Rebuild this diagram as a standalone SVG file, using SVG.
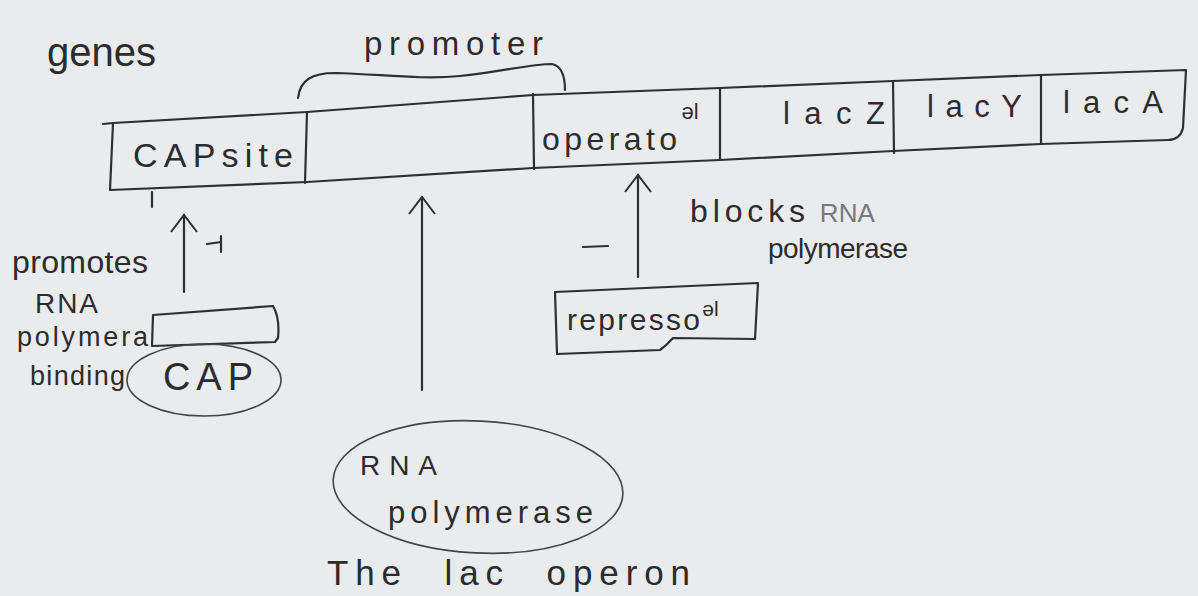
<svg xmlns="http://www.w3.org/2000/svg" width="1198" height="596" viewBox="0 0 1198 596">
<defs>
<style>
.t{font-family:"Liberation Sans","DejaVu Sans",sans-serif;fill:#2c2c2e}
.ln{stroke:#2f2f2f;stroke-width:2.2;fill:none;stroke-linecap:round;stroke-linejoin:round}
.thin{stroke:#444;stroke-width:1.6;fill:none}
</style>
<marker id="ah" viewBox="0 0 22 30" refX="19" refY="15" markerWidth="22" markerHeight="30" markerUnits="userSpaceOnUse" orient="auto">
<path d="M2,2 L19,15 L2,28" fill="none" stroke="#2f2f2f" stroke-width="2"/>
</marker>
</defs>
<rect width="1198" height="596" fill="#eaebed"/>
<text class="t" x="47" y="66" font-size="40" fill="#1c1c2a">genes</text>
<text class="t" x="364" y="55" font-size="33" textLength="179" lengthAdjust="spacing">promoter</text>

<g id="operon">
<path class="ln" d="M103,124 L113,123 L307,112 L533,95 L720,88 L893,81 L1041,75 L1186,70 L1183,128 Q1180,140 1168,140 L1041,144 L893,151 L720,160 L533,168 L307,182 L110,190 L113,123"/>
<path class="ln" d="M307,112 L305,183"/>
<path class="ln" d="M533,94 L534,169"/>
<path class="ln" d="M720,88 L720,160"/>
<path class="ln" d="M893,81 L894,153"/>
<path class="ln" d="M1041,75 L1041,144"/>
<path class="ln" d="M298,98 C300,80 312,73 335,73 C380,74 420,80 460,76 C500,72 530,64 552,64 C562,66 565,76 565,90"/>
<text class="t" x="133" y="167" font-size="34" textLength="160" lengthAdjust="spacing">CAPsite</text>
<text class="t" x="542" y="150" font-size="32"><tspan textLength="135" lengthAdjust="spacing">operato</tspan><tspan font-size="22" dy="-31">əl</tspan></text>
<text class="t" x="783" y="124" font-size="31" textLength="102" lengthAdjust="spacing">lacZ</text>
<text class="t" x="927" y="117" font-size="31" textLength="95" lengthAdjust="spacing">lacY</text>
<text class="t" x="1063" y="113" font-size="31" textLength="100" lengthAdjust="spacing">lacA</text>
</g>

<g id="cap">
<path class="ln" d="M153,315 L273,306 Q280,318 278,338 L275,342 L152,346 Z"/>
<ellipse class="thin" cx="204" cy="380" rx="77" ry="36"/>
<text class="t" x="163" y="390" font-size="38" textLength="90" lengthAdjust="spacing">CAP</text>
</g>

<g id="repressor">
<path class="ln" d="M555,292 L758,283 L755,339 L673,338 Q667,345 660,350 L557,354 Z"/>
<text class="t" x="567" y="330" font-size="30"><tspan textLength="133" lengthAdjust="spacing">represso</tspan><tspan font-size="21" dy="-14">əl</tspan></text>
</g>

<g id="rnapol">
<ellipse class="thin" cx="478" cy="487" rx="145" ry="66" transform="rotate(3 478 487)"/>
<text class="t" x="360" y="475" font-size="28" textLength="77" lengthAdjust="spacing">RNA</text>
<text class="t" x="388" y="523" font-size="31" textLength="205" lengthAdjust="spacing">polymerase</text>
</g>

<g id="connectors">
<path class="ln" d="M184,292 L184,215" marker-end="url(#ah)"/>
<path class="ln" d="M422,390 L422,197" marker-end="url(#ah)"/>
<path class="ln" d="M638,277 L638,175" marker-end="url(#ah)"/>
<path class="ln" d="M583,247 L608,246"/>
<path class="ln" d="M152,192 L152,207"/>
<path class="ln" d="M207,244 L221,242 M221,236 L221,252"/>
</g>

<g id="labels">
<text class="t" x="12" y="273" font-size="32" textLength="136" lengthAdjust="spacing">promotes</text>
<text class="t" x="35" y="313" font-size="28" textLength="63" lengthAdjust="spacing">RNA</text>
<text class="t" x="17" y="346" font-size="27" fill="#4a4a50" textLength="131" lengthAdjust="spacing">polymera</text>
<text class="t" x="30" y="385" font-size="27" fill="#6a6878" textLength="95" lengthAdjust="spacing">binding</text>
<text class="t" x="690" y="222" font-size="32"><tspan textLength="115" lengthAdjust="spacing">blocks</tspan><tspan fill="#77777f" dx="10" font-size="26">RNA</tspan></text>
<text class="t" x="768" y="258" font-size="28" textLength="140" lengthAdjust="spacing">polymerase</text>
</g>

<text class="t" x="327" y="585" font-size="35" textLength="363" lengthAdjust="spacing" word-spacing="20">The lac operon</text>
</svg>
